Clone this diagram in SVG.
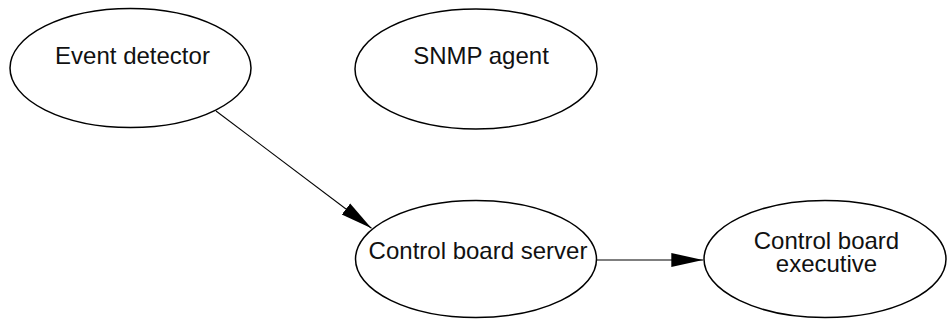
<svg xmlns="http://www.w3.org/2000/svg" width="948" height="320" viewBox="0 0 948 320">
<defs>
<style>
.node ellipse{fill:#fff;stroke:#000;stroke-width:1.5}
.node text{font-family:"Liberation Sans",Arial,sans-serif;font-size:24px;fill:#111;text-anchor:middle}
.edge{stroke:#000;stroke-width:1.1;fill:none;marker-end:url(#arrow)}
</style>
<marker id="arrow" markerUnits="userSpaceOnUse" markerWidth="32" markerHeight="16" viewBox="0 0 32 16" refX="32" refY="8" orient="auto">
<path d="M0,1 L32,8 L0,15 z" fill="#000"/>
</marker>
</defs>
<rect width="948" height="320" fill="#fff"/>
<g id="connectors">
<line class="edge" x1="216" y1="111" x2="371.5" y2="228.3"/>
<line class="edge" x1="596.5" y1="260" x2="703.3" y2="260"/>
</g>
<g id="event-detector" class="node">
<ellipse cx="130.5" cy="68" rx="120.5" ry="59.5"/>
<text x="132.5" y="64">Event detector</text>
</g>
<g id="snmp-agent" class="node">
<ellipse cx="476" cy="69" rx="121" ry="60"/>
<text x="481" y="64">SNMP agent</text>
</g>
<g id="control-board-server" class="node">
<ellipse cx="476" cy="259" rx="120.5" ry="58.5"/>
<text x="478" y="259">Control board server</text>
</g>
<g id="control-board-executive" class="node">
<ellipse cx="825" cy="259" rx="121" ry="58.5"/>
<text x="826.5" y="249">Control board</text>
<text x="826.5" y="272">executive</text>
</g>
</svg>
